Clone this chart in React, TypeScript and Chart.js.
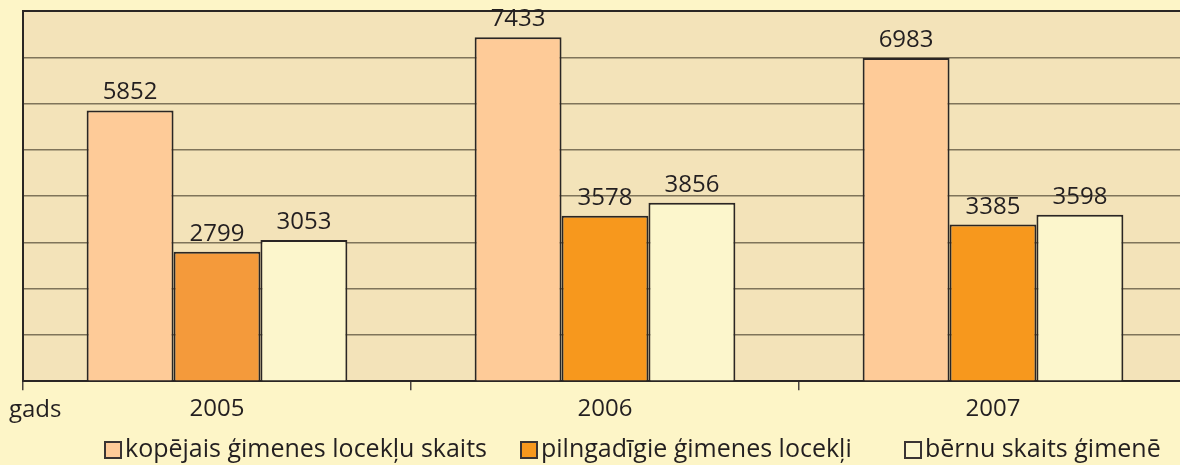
import React, { useEffect, useRef } from "react";
import { Chart, registerables } from "chart.js";

Chart.register(...registerables);

const years = ["2005", "2006", "2007"];
const totalMembers = [5852, 7433, 6983];
const adultMembers = [2799, 3578, 3385];
const childrenCount = [3053, 3856, 3598];
const seriesNames = [
  "kopējais ģimenes locekļu skaits",
  "pilngadīgie ģimenes locekļi",
  "bērnu skaits ģimenē",
];
const axisName = "gads";

const FONT = "'Open Sans', sans-serif";
const INK = "#231f20";
const PAGE_BG = "#fdf5c7";
const PLOT_BG = "#f3e3b9";
const COLORS = ["#fecb98", "#f7981d", "#fcf6cc"];
const ADULT_COLORS = ["#f49a3b", "#f7981d", "#f7981d"];

const bgPlugin = {
  id: "plotBg",
  beforeDraw(chart: any) {
    const { ctx, chartArea } = chart;
    ctx.save();
    ctx.fillStyle = PAGE_BG;
    ctx.fillRect(0, 0, chart.width, chart.height);
    ctx.fillStyle = PLOT_BG;
    ctx.fillRect(chartArea.left, chartArea.top, chartArea.right - chartArea.left, chartArea.bottom - chartArea.top);
    ctx.restore();
  },
  afterDraw(chart: any) {
    const { ctx, chartArea } = chart;
    ctx.save();
    ctx.strokeStyle = "#2a2624";
    ctx.lineWidth = 2;
    ctx.beginPath();
    ctx.moveTo(chartArea.left, chartArea.top);
    ctx.lineTo(chartArea.right, chartArea.top);
    ctx.stroke();
    // value labels
    ctx.fillStyle = INK;
    ctx.font = `24px ${FONT}`;
    ctx.textAlign = "center";
    ctx.textBaseline = "alphabetic";
    chart.data.datasets.forEach((ds: any, i: number) => {
      const meta = chart.getDatasetMeta(i);
      meta.data.forEach((bar: any, j: number) => {
        ctx.fillText(String(ds.data[j]), bar.x, bar.y - 11);
      });
    });
    // axis name
    ctx.font = `24px ${FONT}`;
    ctx.textAlign = "left";
    ctx.textBaseline = "middle";
    ctx.fillText(axisName, 9, 410);
    // legend
    ctx.font = `25px ${FONT}`;
    const items = [
      { x: 105, label: seriesNames[0], color: COLORS[0] },
      { x: 521, label: seriesNames[1], color: COLORS[1] },
      { x: 905, label: seriesNames[2], color: COLORS[2] },
    ];
    items.forEach((it) => {
      const y = 450;
      ctx.fillStyle = it.color;
      ctx.fillRect(it.x, y - 8, 16, 16);
      ctx.strokeStyle = "#3a3433";
      ctx.lineWidth = 2;
      ctx.strokeRect(it.x, y - 8, 16, 16);
      ctx.fillStyle = INK;
      ctx.fillText(it.label, it.x + 20, y);
    });
    ctx.restore();
  },
};

export default function App() {
  const ref = useRef<HTMLCanvasElement>(null);
  useEffect(() => {
    document.body.style.margin = "0";
    document.body.style.background = PAGE_BG;
    const chart = new Chart(ref.current!, {
      type: "bar",
      data: {
        labels: years,
        datasets: [
          { label: seriesNames[0], data: totalMembers, backgroundColor: COLORS[0], borderColor: "#2a2624", borderWidth: 2 },
          { label: seriesNames[1], data: adultMembers, backgroundColor: ADULT_COLORS, borderColor: "#2a2624", borderWidth: 2 },
          { label: seriesNames[2], data: childrenCount, backgroundColor: COLORS[2], borderColor: "#2a2624", borderWidth: 2 },
        ],
      },
      options: {
        animation: false,
        responsive: false,
        maintainAspectRatio: false,
        layout: { padding: { left: 23, top: 11, right: 3, bottom: 36 } },
        plugins: { legend: { display: false }, tooltip: { enabled: false } },
        datasets: { bar: { categoryPercentage: 0.672, barPercentage: 1 } },
        scales: {
          x: {
            grid: { offset: true, drawOnChartArea: false, drawTicks: true, tickLength: 9, color: "#4a4440", lineWidth: 1.5 },
            border: { display: true, color: "#2a2624", width: 2 },
            ticks: { color: INK, font: { family: FONT, size: 24 }, padding: 5 },
          },
          y: {
            min: 0,
            max: 8000,
            ticks: { display: false, stepSize: 1000 },
            grid: { color: "#7f745a", lineWidth: 1.5, drawTicks: false },
            border: { display: true, color: "#2a2624", width: 2 },
          },
        },
      },
      plugins: [bgPlugin],
    });
    return () => chart.destroy();
  }, []);
  return (
    <div style={{ width: 1180, height: 465, overflow: "hidden", position: "relative" }}>
      <canvas ref={ref} width={1190} height={465} style={{ display: "block", width: 1190, height: 465 }} />
    </div>
  );
}
